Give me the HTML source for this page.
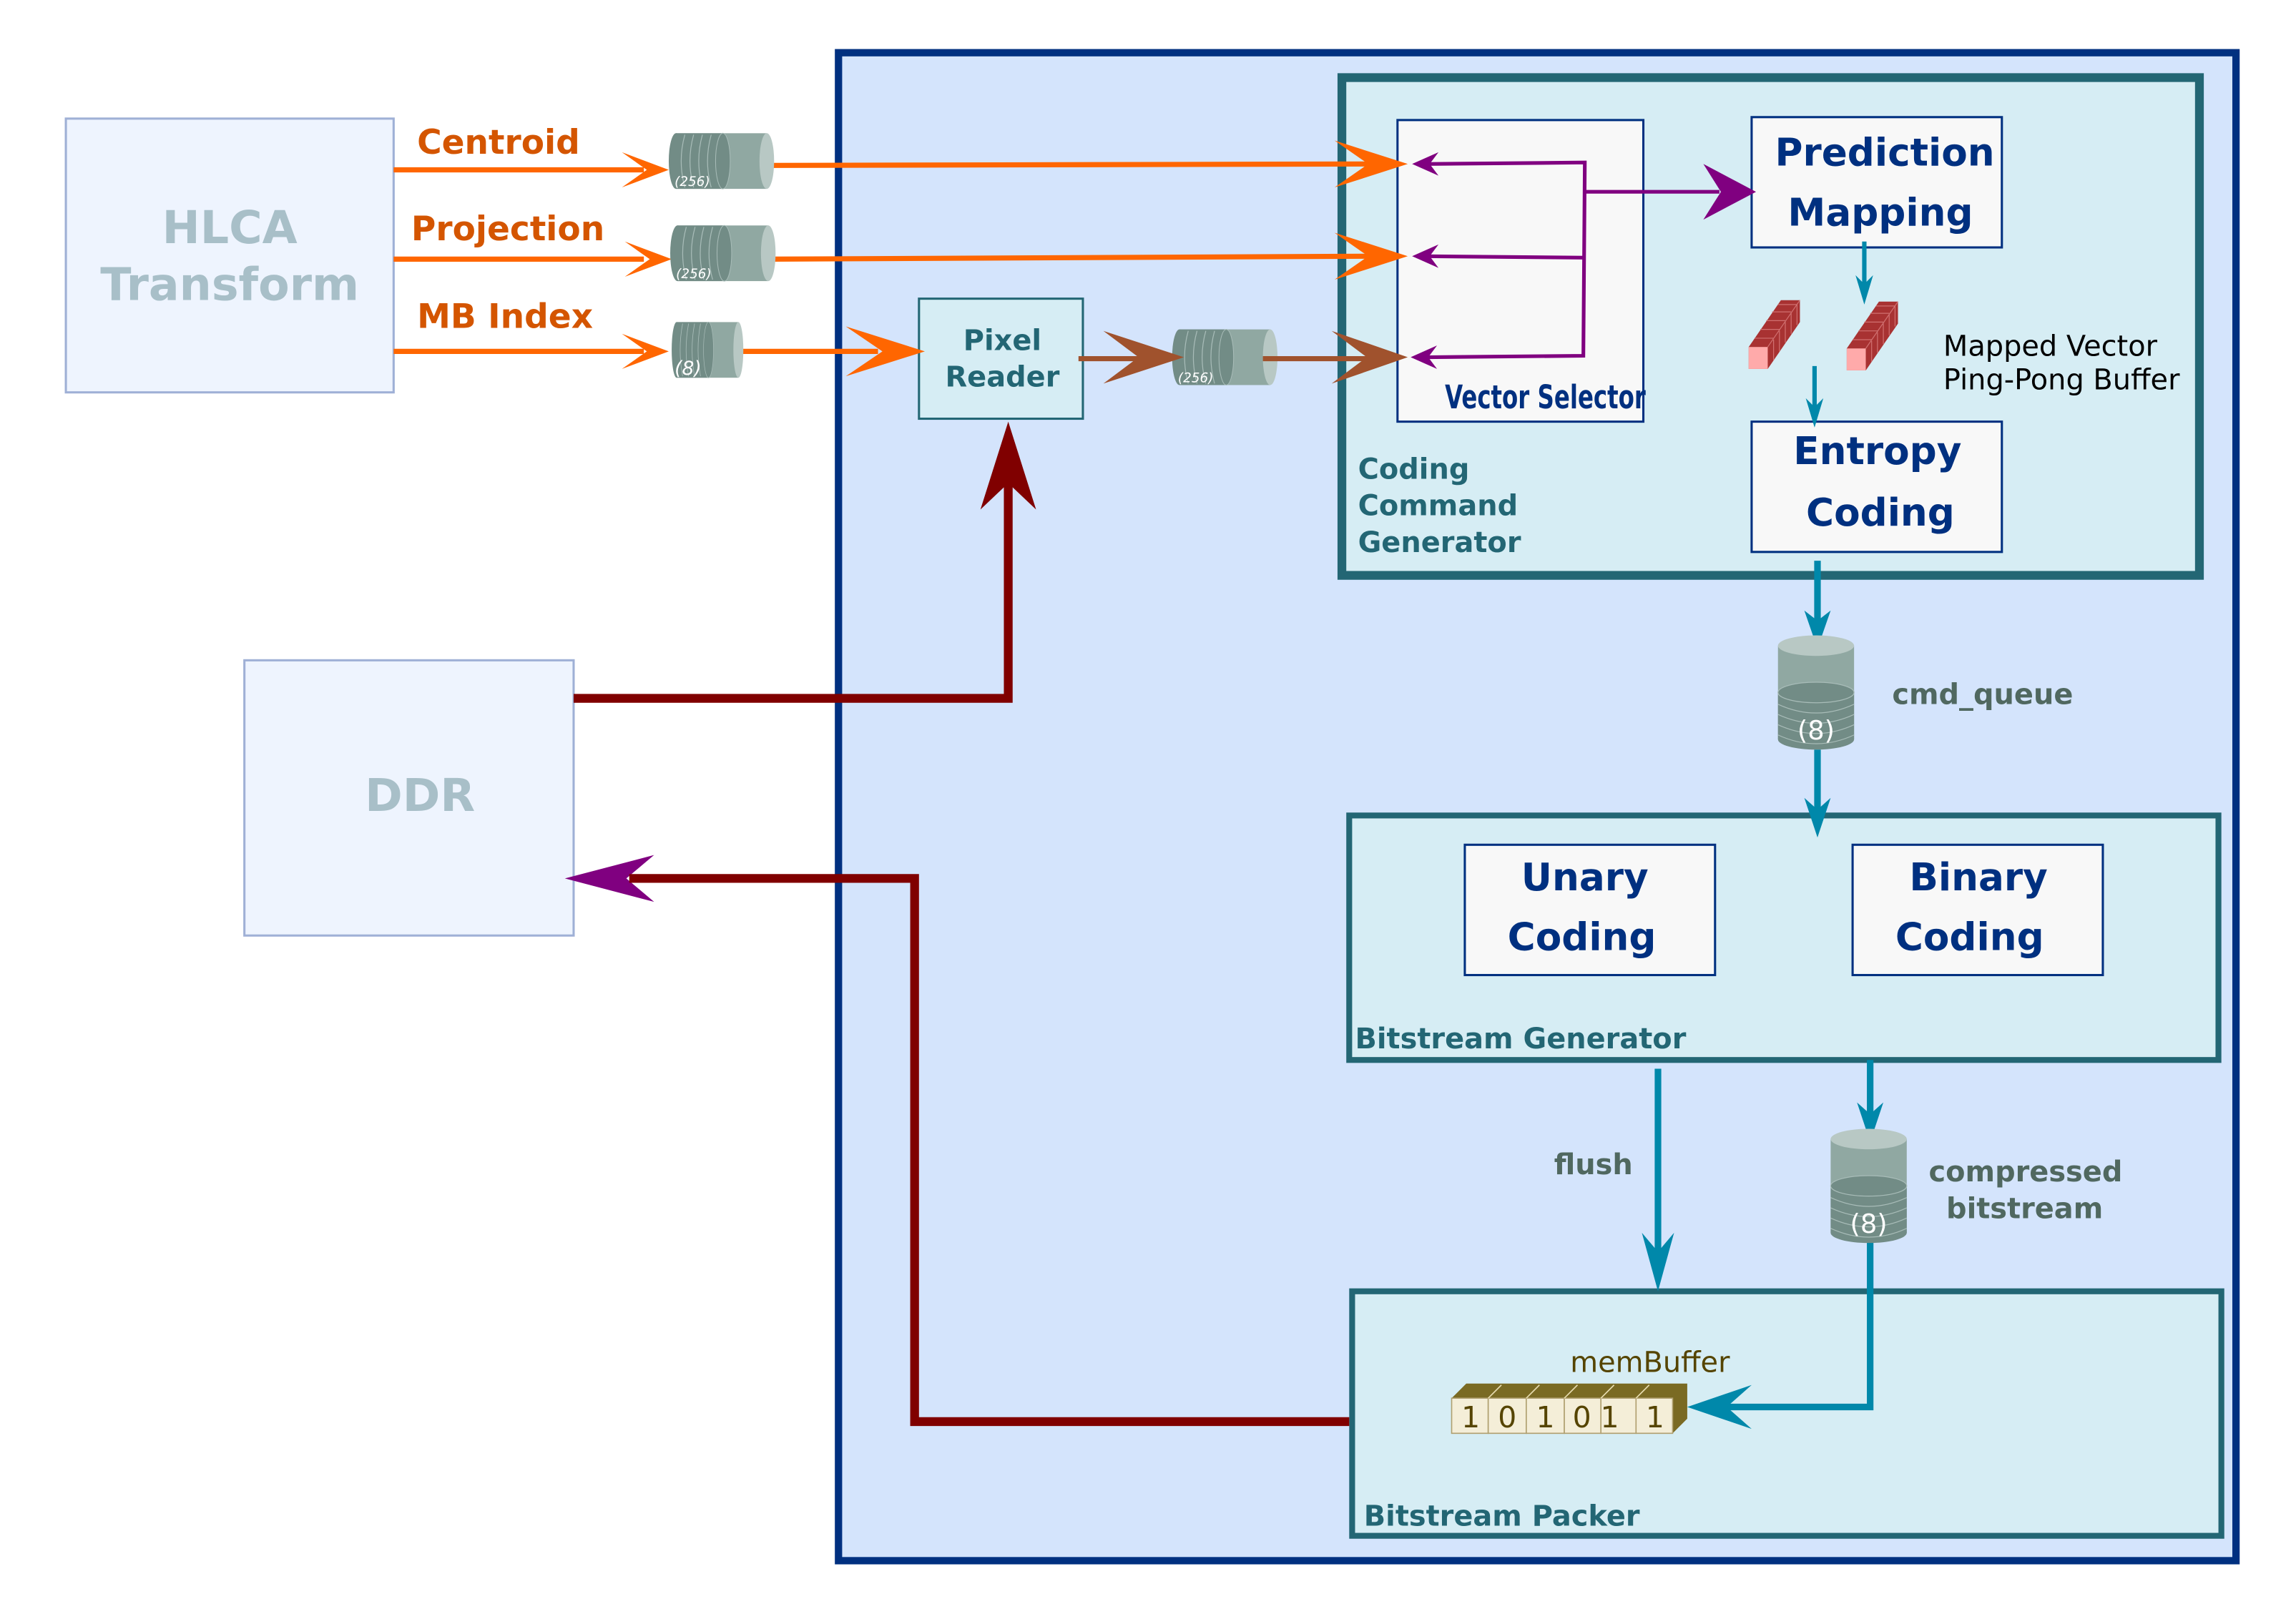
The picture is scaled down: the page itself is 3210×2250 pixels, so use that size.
<!DOCTYPE html>
<html><head><meta charset="utf-8"><style>
html,body{margin:0;padding:0;background:#fff;}
svg{display:block;}
text{font-family:"DejaVu Sans","Liberation Sans",sans-serif;}
</style></head><body>
<svg width="3210" height="2250" viewBox="0 0 1569 1099" preserveAspectRatio="none" xmlns="http://www.w3.org/2000/svg">
<defs>
<g id="hcyl">
  <rect x="5" y="0" width="62" height="38" fill="#90a8a2"/>
  <rect x="5" y="0" width="32" height="38" fill="#728c86"/>
  <ellipse cx="5" cy="19" rx="5" ry="19" fill="#728c86"/>
  <path d="M11,1 q-5,18 0,36 M17,1 q-5,18 0,36 M23,1 q-5,18 0,36 M29,1 q-5,18 0,36" stroke="#a8bcb8" stroke-width="0.6" fill="none"/>
  <ellipse cx="37" cy="19" rx="5" ry="19" fill="#728c86" stroke="#a8bcb8" stroke-width="0.5"/>
  <ellipse cx="67" cy="19" rx="5" ry="19" fill="#b8c8c4"/>
</g>
<g id="vcyl">
  <rect x="0" y="6" width="52" height="64" fill="#90a8a2"/>
  <rect x="0" y="38" width="52" height="32" fill="#728c86"/>
  <ellipse cx="26" cy="70" rx="26" ry="7" fill="#728c86"/>
  <ellipse cx="26" cy="38" rx="26" ry="7" fill="#728c86" stroke="#a8bcb8" stroke-width="0.6"/>
  <path d="M0,46 q26,12 52,0 M0,53 q26,12 52,0 M0,60 q26,12 52,0 M0,67 q26,12 52,0" stroke="#a8bcb8" stroke-width="0.6" fill="none"/>
  <ellipse cx="26" cy="6" rx="26" ry="7" fill="#b8c8c4"/>
</g>
<g id="pp">
  <polygon points="0,34 22,2 35,2 35,17 13,49 0,49" fill="#a83232"/>
  <path d="M13,34 L35,2 M4,28 h13 M8,22 h13 M12,16 h13 M16,10 h13 M20,5 h13 M17,29 v14 M21,23 v14 M25,17 v14 M29,11 v14 M33,5 v14" stroke="#d07070" stroke-width="0.6" fill="none"/>
  <rect x="0" y="34" width="13" height="15" fill="#ffaaaa"/>
</g>
</defs>

<rect x="573" y="36" width="955" height="1030" fill="#d4e4fc" stroke="#003080" stroke-width="5"/>

<rect x="45" y="81" width="224" height="187" fill="#eef4fe" stroke="#9fb0d6" stroke-width="1.5"/>
<text x="157" y="166" font-size="31" font-weight="bold" fill="#a8bfc8" text-anchor="middle">HLCA</text>
<text x="157" y="205" font-size="31" font-weight="bold" fill="#a8bfc8" text-anchor="middle">Transform</text>
<rect x="167" y="451" width="225" height="188" fill="#eef4fe" stroke="#9fb0d6" stroke-width="1.5"/>
<text x="287" y="554" font-size="31" font-weight="bold" fill="#a8bfc8" text-anchor="middle">DDR</text>

<rect x="917" y="53" width="586" height="340" fill="#d6edf4" stroke="#236674" stroke-width="6"/>
<rect x="955" y="82" width="168" height="206" fill="#f8f8f8" stroke="#003080" stroke-width="1.5"/>
<text transform="translate(1056,279) scale(0.72,1)" x="0" y="0" font-size="22" font-weight="bold" fill="#003080" text-anchor="middle">Vector Selector</text>
<text x="928" y="327" font-size="19.5" font-weight="bold" fill="#236674">Coding</text>
<text x="928" y="352" font-size="19.5" font-weight="bold" fill="#236674">Command</text>
<text x="928" y="377" font-size="19.5" font-weight="bold" fill="#236674">Generator</text>
<rect x="1197" y="80" width="171" height="89" fill="#f8f8f8" stroke="#003080" stroke-width="1.5"/>
<text x="1288" y="113" font-size="26" font-weight="bold" fill="#003080" text-anchor="middle">Prediction</text>
<text x="1285" y="154" font-size="26" font-weight="bold" fill="#003080" text-anchor="middle">Mapping</text>
<rect x="1197" y="288" width="171" height="89" fill="#f8f8f8" stroke="#003080" stroke-width="1.5"/>
<text x="1283" y="317" font-size="26" font-weight="bold" fill="#003080" text-anchor="middle">Entropy</text>
<text x="1285" y="359" font-size="26" font-weight="bold" fill="#003080" text-anchor="middle">Coding</text>
<use href="#pp" x="1195" y="203"/>
<use href="#pp" x="1262" y="204"/>
<text x="1328" y="243" font-size="19.5" fill="#000">Mapped Vector</text>
<text x="1328" y="266" font-size="19.5" fill="#000">Ping-Pong Buffer</text>

<rect x="922" y="557" width="594" height="167" fill="#d6edf4" stroke="#236674" stroke-width="4"/>
<rect x="1001" y="577" width="171" height="89" fill="#f8f8f8" stroke="#003080" stroke-width="1.5"/>
<text x="1083" y="608" font-size="26" font-weight="bold" fill="#003080" text-anchor="middle">Unary</text>
<text x="1081" y="649" font-size="26" font-weight="bold" fill="#003080" text-anchor="middle">Coding</text>
<rect x="1266" y="577" width="171" height="89" fill="#f8f8f8" stroke="#003080" stroke-width="1.5"/>
<text x="1352" y="608" font-size="26" font-weight="bold" fill="#003080" text-anchor="middle">Binary</text>
<text x="1346" y="649" font-size="26" font-weight="bold" fill="#003080" text-anchor="middle">Coding</text>
<text x="926" y="716" font-size="19.5" font-weight="bold" fill="#236674">Bitstream Generator</text>

<rect x="924" y="882" width="594" height="167" fill="#d6edf4" stroke="#236674" stroke-width="4"/>
<text x="932" y="1042" font-size="19.5" font-weight="bold" fill="#236674">Bitstream Packer</text>
<text x="1073" y="937" font-size="19.5" fill="#554400">memBuffer</text>
<g>
  <polygon points="992,955 1002,945 1153,945 1153,969 1143,979 1143,955" fill="#7a6a23"/>
  <g fill="#f4eed8" stroke="#b0a070" stroke-width="0.8">
    <rect x="992" y="955" width="25" height="24"/><rect x="1017" y="955" width="26" height="24"/>
    <rect x="1043" y="955" width="26" height="24"/><rect x="1069" y="955" width="25" height="24"/>
    <rect x="1094" y="955" width="24" height="24"/><rect x="1118" y="955" width="25" height="24"/>
  </g>
  <path d="M1017,955 l9,-9 M1043,955 l9,-9 M1069,955 l9,-9 M1094,955 l9,-9 M1118,955 l9,-9" stroke="#e8dcb0" stroke-width="0.8"/>
  <g font-size="20" fill="#554400" text-anchor="middle">
    <text x="1005" y="975">1</text><text x="1030" y="975">0</text><text x="1056" y="975">1</text>
    <text x="1081" y="975">0</text><text x="1100" y="975">1</text><text x="1131" y="975">1</text>
  </g>
</g>

<rect x="628" y="204" width="112" height="82" fill="#d6edf4" stroke="#236674" stroke-width="1.5"/>
<text x="685" y="239" font-size="19.5" font-weight="bold" fill="#236674" text-anchor="middle">Pixel</text>
<text x="685" y="264" font-size="19.5" font-weight="bold" fill="#236674" text-anchor="middle">Reader</text>

<text x="285" y="105" font-size="23" font-weight="bold" fill="#d45500">Centroid</text>
<text x="281" y="164" font-size="23" font-weight="bold" fill="#d45500">Projection</text>
<text x="285" y="224" font-size="23" font-weight="bold" fill="#d45500">MB Index</text>

<g stroke="#ff6600" stroke-width="3.5" fill="none">
  <line x1="269" y1="116" x2="440" y2="116"/>
  <line x1="269" y1="177" x2="440" y2="177"/>
  <line x1="269" y1="240" x2="440" y2="240"/>
  <line x1="528" y1="113" x2="935" y2="112"/>
  <line x1="526" y1="177" x2="935" y2="175"/>
  <line x1="505" y1="240" x2="600" y2="240"/>
</g>
<g fill="#ff6600">
  <polygon points="457,116 425,104 442,116 425,128"/>
  <polygon points="459,177 427,165 444,177 427,189"/>
  <polygon points="457,240 425,228 442,240 425,252"/>
  <polygon points="962,112 912,96 935,112 912,128"/>
  <polygon points="962,175 912,159 935,175 912,191"/>
  <polygon points="632,240 578,223 603,240 578,257"/>
</g>
<use href="#hcyl" x="457" y="91"/>
<use href="#hcyl" x="458" y="154"/>
<g transform="translate(459,220) scale(0.68,1)"><use href="#hcyl"/></g>
<use href="#hcyl" x="801" y="225"/>
<g font-size="9" font-style="italic" fill="#fff">
  <text x="461" y="127">(256)</text><text x="462" y="190">(256)</text>
  <text x="461" y="256" font-size="13">(8)</text><text x="805" y="261">(256)</text>
</g>

<g stroke="#a0522d" stroke-width="3.5"><line x1="737" y1="245" x2="785" y2="245"/><line x1="863" y1="245" x2="935" y2="245"/></g>
<g fill="#a0522d">
  <polygon points="809,244 754,226 778,244 754,262"/>
  <polygon points="962,244 910,226 934,244 910,262"/>
</g>

<g stroke="#800080" stroke-width="2.5" fill="none">
  <polyline points="975,112 1083,111 1082,243 975,244"/>
  <line x1="975" y1="175" x2="1082" y2="176"/>
  <line x1="1083" y1="131" x2="1175" y2="131"/>
</g>
<g fill="#800080">
  <polygon points="965,112 983,104 977,112 983,120"/>
  <polygon points="965,175 983,167 977,175 983,183"/>
  <polygon points="964,244 982,236 976,244 982,252"/>
  <polygon points="1200,131 1164,112 1176,131 1164,150"/>
  <polygon points="386,600 447,584 428,600 447,616"/>
</g>

<g stroke="#800000" stroke-width="6" fill="none">
  <polyline points="392,477 689,477 689,320"/>
  <polyline points="922,971 625,971 625,600 430,600"/>
</g>
<polygon points="689,288 670,348 689,330 708,348" fill="#800000"/>

<g stroke="#0088aa" stroke-width="3" fill="none">
  <line x1="1274" y1="165" x2="1274" y2="195"/>
  <line x1="1240" y1="250" x2="1240" y2="280"/>
</g>
<g stroke="#0088aa" stroke-width="4.5" fill="none">
  <line x1="1242" y1="383" x2="1242" y2="425"/>
  <line x1="1242" y1="512" x2="1242" y2="555"/>
  <line x1="1278" y1="724" x2="1278" y2="765"/>
  <line x1="1133" y1="730" x2="1133" y2="860"/>
  <polyline points="1278,848 1278,961 1170,961"/>
</g>
<g fill="#0088aa">
  <polygon points="1274,208 1268,188 1274,194 1280,188"/>
  <polygon points="1240,292 1234,272 1240,278 1246,272"/>
  <polygon points="1242,443 1233,417 1242,424 1251,417"/>
  <polygon points="1242,572 1233,545 1242,553 1251,545"/>
  <polygon points="1278,780 1269,753 1278,761 1287,753"/>
  <polygon points="1133,882 1122,842 1133,855 1144,842"/>
  <polygon points="1153,961 1197,946 1180,961 1197,976"/>
</g>
<use href="#vcyl" x="1215" y="435"/>
<use href="#vcyl" x="1251" y="772"/>
<text x="1241" y="505" font-size="18" fill="#fff" text-anchor="middle">(8)</text>
<text x="1277" y="842" font-size="18" fill="#fff" text-anchor="middle">(8)</text>
<text x="1293" y="481" font-size="19.5" font-weight="bold" fill="#506860">cmd_queue</text>
<text x="1062" y="802" font-size="19.5" font-weight="bold" fill="#506860">flush</text>
<text x="1318" y="807" font-size="19.5" font-weight="bold" fill="#506860">compressed</text>
<text x="1330" y="832" font-size="19.5" font-weight="bold" fill="#506860">bitstream</text>
</svg>
</body></html>
